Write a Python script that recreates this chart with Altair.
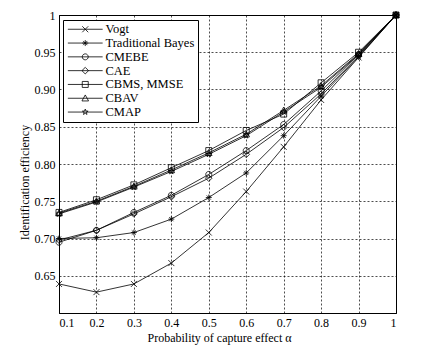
import math
import altair as alt
import pandas as pd

# ---- data ----
alpha = [0.1, 0.2, 0.3, 0.4, 0.5, 0.6, 0.7, 0.8, 0.9, 1.0]
series = ["Vogt", "Traditional Bayes", "CMEBE", "CAE", "CBMS, MMSE", "CBAV", "CMAP"]
vogt = [0.639, 0.628, 0.639, 0.667, 0.708, 0.763, 0.823, 0.886, 0.943, 1.0]
trad_bayes = [0.700, 0.701, 0.708, 0.726, 0.755, 0.788, 0.838, 0.891, 0.944, 1.0]
cmebe = [0.695, 0.711, 0.735, 0.758, 0.786, 0.818, 0.853, 0.898, 0.947, 1.0]
cae = [0.698, 0.711, 0.733, 0.756, 0.781, 0.813, 0.849, 0.894, 0.945, 1.0]
cbms = [0.735, 0.752, 0.772, 0.795, 0.818, 0.845, 0.867, 0.909, 0.950, 1.0]
cbav = [0.734, 0.750, 0.770, 0.792, 0.815, 0.840, 0.872, 0.905, 0.948, 1.0]
cmap = [0.733, 0.749, 0.769, 0.790, 0.813, 0.838, 0.870, 0.903, 0.947, 1.0]
values = [vogt, trad_bayes, cmebe, cae, cbms, cbav, cmap]

x_ticks = [0.1, 0.2, 0.3, 0.4, 0.5, 0.6, 0.7, 0.8, 0.9, 1.0]
y_ticks = [0.65, 0.70, 0.75, 0.80, 0.85, 0.90, 0.95, 1.0]

rows = []
for name, ys in zip(series, values):
    for a, v in zip(alpha, ys):
        rows.append({"alpha": a, "eff": v, "series": name})
df = pd.DataFrame(rows)

# ---- marker shapes (unit paths) ----
def star_path():
    pts = []
    for k in range(10):
        ang = math.radians(-90 + 36 * k)
        r = 1.0 if k % 2 == 0 else 0.4
        pts.append(f"{r*math.cos(ang):.3f},{r*math.sin(ang):.3f}")
    return "M" + "L".join(pts) + "Z"

marker_paths = [
    "M-1,-1L1,1M-1,1L1,-1",                                   # x
    "M-1,0L1,0M0,-1L0,1M-0.7,-0.7L0.7,0.7M-0.7,0.7L0.7,-0.7",  # asterisk
    "M1,0A1,1,0,1,1,-1,0A1,1,0,1,1,1,0Z",                      # circle
    "M0,-1.1L1.1,0L0,1.1L-1.1,0Z",                             # diamond
    "M-1,-1H1V1H-1Z",                                          # square
    "M0,-1.1L1.1,0.9H-1.1Z",                                   # triangle
    star_path(),                                               # star
]
legend_paths = ["M-5.8,0H5.8" + p for p in marker_paths]

FONT = "'Liberation Serif', 'Times New Roman', Times, serif"

base = alt.Chart(df)

x_enc = alt.X(
    "alpha:Q",
    scale=alt.Scale(domain=[0.1, 1.0], nice=False, zero=False),
    axis=alt.Axis(
        values=x_ticks,
        labelExpr="datum.value == 1 ? '1' : format(datum.value, '.1f')",
        title="Probability of capture effect α",
        titleX=160,
    ),
)
y_enc = alt.Y(
    "eff:Q",
    scale=alt.Scale(domain=[0.6, 1.0], nice=False, zero=False),
    axis=alt.Axis(
        values=y_ticks,
        labelExpr="datum.value == 1 ? '1' : format(datum.value, '.2f')",
        title="Identification efficiency",
        titleX=-28,
        titleY=167,
    ),
)

lines = base.mark_line(color="black", strokeWidth=0.8).encode(
    x=x_enc, y=y_enc, detail="series:N"
)

points = base.mark_point(
    filled=False, color="black", strokeWidth=0.8, size=36, opacity=1
).encode(
    x=x_enc,
    y=y_enc,
    shape=alt.Shape(
        "series:N",
        scale=alt.Scale(domain=series, range=marker_paths),
        legend=None,
    ),
)

legend_layer = base.mark_point(
    filled=False, color="black", strokeWidth=0.8, size=36, opacity=0
).encode(
    x=x_enc,
    y=y_enc,
    shape=alt.Shape(
        "series:N",
        scale=alt.Scale(domain=series, range=legend_paths),
        sort=series,
        legend=alt.Legend(
            title=None,
            orient="none",
            legendX=4,
            legendY=5,
            padding=3,
            rowPadding=0.8,
            symbolOffset=13,
            labelOffset=14,
            symbolSize=36,
            symbolStrokeWidth=0.8,
            symbolStrokeColor="black",
            symbolFillColor="transparent",
            symbolOpacity=1,
            labelFont=FONT,
            labelFontSize=12.5,
            labelColor="black",
            labelLimit=400,
            strokeColor="black",
            fillColor="white",
        ),
    ),
)

chart = (
    alt.layer(lines, points, legend_layer)
    .resolve_scale(shape="independent")
    .properties(
        width=337,
        height=298,
        autosize=alt.AutoSizeParams(type="none"),
        padding={"left": 59, "top": 15, "right": 49, "bottom": 37},
        background="white",
    )
    .configure(font=FONT)
    .configure_view(stroke="black", strokeWidth=1)
    .configure_axis(
        domainColor="black",
        domainWidth=1,
        grid=True,
        gridColor="black",
        gridDash=[2, 2],
        gridWidth=0.7,
        ticks=False,
        labelFont=FONT,
        labelFontSize=12,
        labelColor="black",
        labelPadding=4,
        titleFont=FONT,
        titleFontSize=12,
        titleFontWeight="normal",
        titleColor="black",
        titlePadding=4,
    )
)

chart.save("out.html", embed_options={"renderer": "svg", "actions": False})
